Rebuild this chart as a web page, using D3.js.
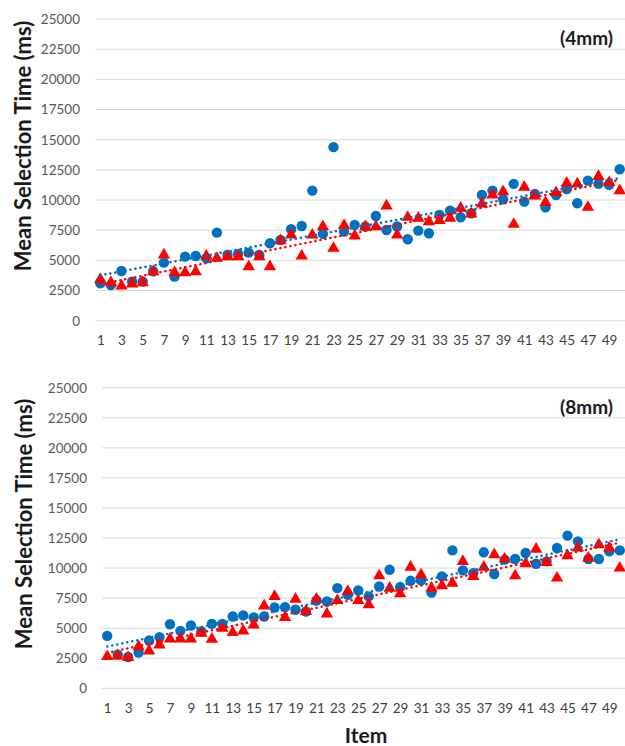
<!DOCTYPE html>
<html>
<head>
<meta charset="utf-8">
<script src="https://cdn.jsdelivr.net/npm/d3@7"></script>
<style>
  body { margin: 0; background: #fff; }
  svg text { font-family: Lato, "Open Sans", sans-serif; }
</style>
</head>
<body>
<svg id="chart" width="625" height="746"></svg>
<script>
// Items 1..50
var items = d3.range(1, 51);
var yTicks = d3.range(0, 25001, 2500);
var xTickLabels = d3.range(1, 50, 2);

// (4mm) panel
var blue4mm = [3100, 2950, 4120, 3235, 3235, 4100, 4810, 3650, 5310, 5360,
               5170, 7300, 5450, 5530, 5640, 5450, 6415, 6690, 7575, 7850,
               10780, 7190, 14380, 7380, 7935, 7800, 8680, 7520, 7800, 6750,
               7465, 7245, 8765, 9125, 8570, 8900, 10420, 10780, 10065, 11340,
               9870, 10500, 9400, 10420, 10900, 9730, 11610, 11340, 11250, 12550];
var red4mm = [3430, 3150, 2875, 3040, 3150, 4065, 5450, 3980, 3980, 4065,
              5360, 5170, 5310, 5310, 4480, 5310, 4480, 6640, 7100, 5360,
              7100, 7800, 6000, 7900, 7020, 7800, 7800, 9510, 7100, 8570,
              8490, 8210, 8300, 8490, 9320, 8850, 9680, 10420, 10700, 7990,
              11060, 10340, 9790, 10620, 11390, 11340, 9400, 11950, 11450, 10780];

// (8mm) panel
var blue8mm = [4360, 2800, 2600, 2970, 3970, 4250, 5330, 4780, 5220, 4720,
               5360, 5360, 5970, 6060, 5890, 5970, 6720, 6750, 6530, 6390,
               7300, 7220, 8330, 7780, 8140, 7640, 8470, 9860, 8420, 8940,
               8970, 7970, 9310, 11470, 9810, 9580, 11310, 9500, 10700, 10750,
               11250, 10360, 10560, 11670, 12700, 12220, 10750, 10750, 11390, 11470];
var red8mm = [2640, 2700, 2560, 3470, 3110, 3610, 4110, 4110, 4110, 4580,
              4080, 5000, 4640, 4780, 5280, 6860, 7640, 5890, 7420, 6390,
              7420, 6190, 7300, 8060, 7300, 6950, 9360, 8330, 7860, 10080,
              9440, 8330, 8530, 8750, 10560, 9310, 10080, 11110, 10750, 9360,
              10360, 11580, 10470, 9170, 11030, 11670, 10830, 11950, 11670, 10000];

var blueColor = "#0070C0";
var redColor = "#FF0000";

var svg = d3.select("#chart");

// Least squares line, like the Excel linear trendline
function trend(values) {
	var mx = d3.mean(items), my = d3.mean(values);
	var num = d3.sum(items, function(x, i) { return (x - mx) * (values[i] - my); });
	var den = d3.sum(items, function(x) { return (x - mx) * (x - mx); });
	var b = num / den, a = my - b * mx;
	return [{x: 1, y: a + b}, {x: 50, y: a + b * 50}];
}

function drawPanel(cfg) {

	var x = d3.scaleLinear().domain([0.5, 50.5]).range([cfg.left, 625]);
	var y = d3.scaleLinear().domain([0, 25000]).range([cfg.bottom, cfg.top]);

	var g = svg.append("g");

	// Gridlines
	g.selectAll(".grid")
		.data(yTicks)
		.enter().append("line")
		.attr("x1", cfg.left).attr("x2", 625)
		.attr("y1", function(d) { return y(d); })
		.attr("y2", function(d) { return y(d); })
		.attr("stroke", "#d9d9d9")
		.attr("stroke-width", 1);

	// Y tick labels (no thousands separator)
	var yAxis = d3.axisLeft(y).tickValues(yTicks).tickFormat(d3.format("d"))
		.tickSize(0).tickPadding(0);
	g.append("g")
		.attr("transform", "translate(" + (cfg.left - 15) + ",0)")
		.call(yAxis)
		.call(function(s) { s.select(".domain").remove(); })
		.selectAll("text")
		.attr("fill", "#595959")
		.style("font-size", "13.5px")
		.style("font-family", "Lato, sans-serif");

	// X tick labels
	var xAxis = d3.axisBottom(x).tickValues(xTickLabels).tickSize(0).tickPadding(0);
	g.append("g")
		.attr("transform", "translate(0," + (cfg.bottom + 15) + ")")
		.call(xAxis)
		.call(function(s) { s.select(".domain").remove(); })
		.selectAll("text")
		.attr("fill", "#404040")
		.style("font-size", "13.5px")
		.style("font-family", "Lato, sans-serif");

	// Markers: blue circles
	g.selectAll(".blue")
		.data(cfg.blue)
		.enter().append("circle")
		.attr("cx", function(d, i) { return x(items[i]); })
		.attr("cy", function(d) { return y(d); })
		.attr("r", 5.2)
		.attr("fill", blueColor);

	// Markers: red triangles
	var tri = d3.symbol().type(d3.symbolTriangle).size(66);
	g.selectAll(".red")
		.data(cfg.red)
		.enter().append("path")
		.attr("d", tri)
		.attr("transform", function(d, i) {
			return "translate(" + x(items[i]) + "," + y(d) + ")";
		})
		.attr("fill", redColor);

	// Dotted trendlines
	var line = d3.line()
		.x(function(d) { return x(d.x); })
		.y(function(d) { return y(d.y); });

	[[cfg.blue, blueColor], [cfg.red, redColor]].forEach(function(s) {
		g.append("path")
			.attr("d", line(trend(s[0])))
			.attr("fill", "none")
			.attr("stroke", s[1])
			.attr("stroke-width", 2.5)
			.attr("stroke-linecap", "round")
			.attr("stroke-dasharray", "0.1,5");
	});

	// Panel label
	g.append("text")
		.attr("x", 613).attr("y", cfg.top + 26)
		.attr("text-anchor", "end")
		.style("font-size", "19px")
		.style("font-weight", "bold")
		.attr("fill", "#1a1a1a")
		.text(cfg.label);

	// Y axis title
	g.append("text")
		.attr("transform", "translate(" + cfg.titleX + "," + cfg.titleY + ") rotate(-90)")
		.attr("text-anchor", "middle")
		.attr("dy", "0.35em")
		.style("font-size", "22px")
		.style("font-weight", "bold")
		.attr("fill", "#1a1a1a")
		.text("Mean Selection Time (ms)");
}

drawPanel({ left: 95, top: 19, bottom: 320.7, blue: blue4mm, red: red4mm,
	label: "(4mm)", titleX: 23, titleY: 146 });
drawPanel({ left: 102, top: 387.7, bottom: 688.3, blue: blue8mm, red: red8mm,
	label: "(8mm)", titleX: 24, titleY: 524 });

// X axis title
svg.append("text")
	.attr("x", 366).attr("y", 743)
	.attr("text-anchor", "middle")
	.style("font-size", "21px")
	.style("font-weight", "bold")
	.attr("fill", "#1a1a1a")
	.text("Item");
</script>
</body>
</html>
